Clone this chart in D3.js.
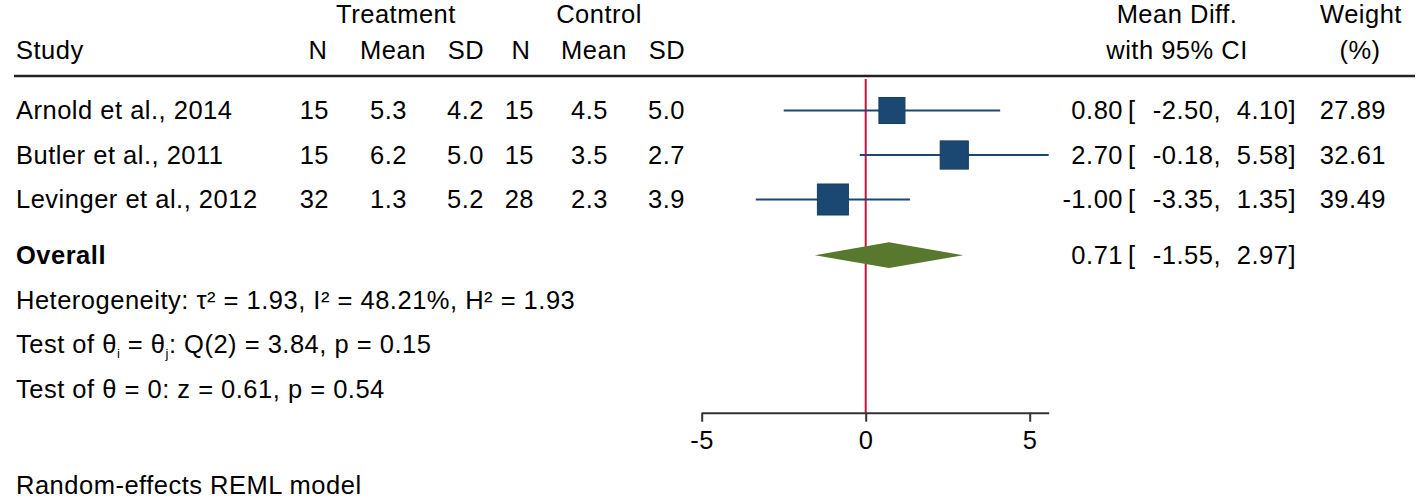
<!DOCTYPE html>
<html>
<head>
<meta charset="utf-8">
<script src="https://cdn.jsdelivr.net/npm/d3@7"></script>
<style>
  body { margin: 0; background: #fff; }
  svg text { font-family: "Liberation Sans", Arial, Helvetica, sans-serif; fill: #000; letter-spacing: 0.5px; }
</style>
</head>
<body>
<div id="chart"></div>
<script>
// study level data
const studies = ["Arnold et al., 2014", "Butler et al., 2011", "Levinger et al., 2012"]
const treatN = [15, 15, 32]
const treatMean = [5.3, 6.2, 1.3]
const treatSD = [4.2, 5.0, 5.2]
const ctrlN = [15, 15, 28]
const ctrlMean = [4.5, 3.5, 2.3]
const ctrlSD = [5.0, 2.7, 3.9]
const meanDiff = [0.80, 2.70, -1.00]
const ciLow = [-2.50, -0.18, -3.35]
const ciHigh = [4.10, 5.58, 1.35]
const weights = [27.89, 32.61, 39.49]

// pooled estimate
const overallEst = [0.71]
const overallLow = [-1.55]
const overallHigh = [2.97]

const xTicks = [-5, 0, 5]
const footLines = [
    "Heterogeneity: τ² = 1.93, I² = 48.21%, H² = 1.93",
    "Test of θ_i = θ_j: Q(2) = 3.84, p = 0.15",
    "Test of θ = 0: z = 0.61, p = 0.54"
]
const modelNote = "Random-effects REML model"

const W = 1418, H = 500
const fontSize = 25.5
const blue = "#1b4872", red = "#c8143c", green = "#58782d"

// plain hyphen for negatives, like the stata output
const loc = d3.formatLocale({ decimal: ".", thousands: ",", grouping: [3], currency: ["", ""], minus: "-" })
const f1 = loc.format(".1f"), f2 = loc.format(".2f")

const svg = d3.select("#chart").append("svg")
    .attr("width", W).attr("height", H)

// rows: studies 0..2, overall 3.25, footnotes after it
const rowY = d3.scaleLinear().domain([0, 1]).range([110.5, 155])
const overallRow = studies.length + 0.25

const x = d3.scaleLinear()
    .domain([-5, d3.max(ciHigh)])
    .range([701.7, 701.7 + (d3.max(ciHigh) + 5) * 32.8])

const size = d3.scaleSqrt().domain([0, d3.max(weights)]).range([0, 31])

function txt(g, str, px, py, anchor, bold) {
    return g.append("text")
        .attr("x", px).attr("y", py).attr("dy", "0.35em")
        .attr("text-anchor", anchor || "start")
        .style("font-size", fontSize + "px")
        .style("font-weight", bold ? "bold" : "normal")
        .text(str)
}

// header
const head = svg.append("g")
txt(head, "Treatment", 396, 14, "middle")
txt(head, "Control", 599, 14, "middle")
txt(head, "Mean Diff.", 1177, 14, "middle")
txt(head, "Weight", 1361, 14, "middle")
txt(head, "Study", 16, 50)
txt(head, "N", 318, 50, "middle")
txt(head, "Mean", 393, 50, "middle")
txt(head, "SD", 466, 50, "middle")
txt(head, "N", 521, 50, "middle")
txt(head, "Mean", 594, 50, "middle")
txt(head, "SD", 667, 50, "middle")
txt(head, "with 95% CI", 1177, 50, "middle")
txt(head, "(%)", 1360, 50, "middle")

svg.append("line")
    .attr("x1", 14).attr("x2", 1415).attr("y1", 76).attr("y2", 76)
    .attr("stroke", "#222").attr("stroke-width", 2.5)

// study text columns
const body = svg.append("g")
studies.forEach((s, i) => {
    const y = rowY(i)
    txt(body, s, 16, y)
    txt(body, treatN[i], 329, y, "end")
    txt(body, f1(treatMean[i]), 407, y, "end")
    txt(body, f1(treatSD[i]), 484, y, "end")
    txt(body, ctrlN[i], 534, y, "end")
    txt(body, f1(ctrlMean[i]), 608, y, "end")
    txt(body, f1(ctrlSD[i]), 685, y, "end")
    txt(body, f2(meanDiff[i]), 1123, y, "end")
    txt(body, "[", 1128, y)
    txt(body, f2(ciLow[i]) + ",", 1221, y, "end")
    txt(body, f2(ciHigh[i]) + "]", 1296, y, "end")
    txt(body, f2(weights[i]), 1386, y, "end")
})

const oy = rowY(overallRow)
txt(body, "Overall", 16, oy, "start", true)
txt(body, f2(overallEst[0]), 1123, oy, "end")
txt(body, "[", 1128, oy)
txt(body, f2(overallLow[0]) + ",", 1221, oy, "end")
txt(body, f2(overallHigh[0]) + "]", 1296, oy, "end")

// footnotes, sub-scripts written as _x
footLines.forEach((line, k) => {
    const t = txt(body, "", 16, rowY(overallRow + 1 + k))
    let shifted = false
    line.split(/(_[a-z])/).forEach(part => {
        if (part === "") return
        if (part.startsWith("_")) {
            t.append("tspan").attr("dy", 5).style("font-size", "13px").text(part.slice(1))
            shifted = true
        } else {
            const sp = t.append("tspan").text(part)
            if (shifted) sp.attr("dy", -5)
            shifted = false
        }
    })
})
txt(body, modelNote, 16, 485)

// plot
const plot = svg.append("g")
const axisY = 412.7

plot.append("line")
    .attr("x1", x(0)).attr("x2", x(0))
    .attr("y1", 79).attr("y2", axisY)
    .attr("stroke", red).attr("stroke-width", 2)

plot.selectAll(".ci")
    .data(studies)
    .join("line")
    .attr("class", "ci")
    .attr("x1", (d, i) => x(ciLow[i]))
    .attr("x2", (d, i) => x(ciHigh[i]))
    .attr("y1", (d, i) => rowY(i))
    .attr("y2", (d, i) => rowY(i))
    .attr("stroke", blue).attr("stroke-width", 2)

plot.selectAll(".box")
    .data(studies)
    .join("rect")
    .attr("class", "box")
    .attr("x", (d, i) => x(meanDiff[i]) - size(weights[i]) / 2)
    .attr("y", (d, i) => rowY(i) - size(weights[i]) / 2)
    .attr("width", (d, i) => size(weights[i]))
    .attr("height", (d, i) => size(weights[i]))
    .attr("fill", blue)
    .attr("stroke", "#163c60").attr("stroke-width", 1)

const dh = 12.8
plot.append("polygon")
    .attr("points", [
        [x(overallLow[0]), oy],
        [x(overallEst[0]), oy - dh],
        [x(overallHigh[0]), oy],
        [x(overallEst[0]), oy + dh]
    ].join(" "))
    .attr("fill", green)

const axis = d3.axisBottom(x)
    .tickValues(xTicks)
    .tickSizeInner(9)
    .tickSizeOuter(0)
    .tickPadding(9)
    .tickFormat(loc.format("d"))

plot.append("g")
    .attr("transform", `translate(0,${axisY})`)
    .call(axis)
    .call(g => g.select(".domain").attr("stroke", "#333").attr("stroke-width", 2))
    .call(g => g.selectAll(".tick line").attr("stroke", "#333").attr("stroke-width", 2))
    .call(g => g.selectAll(".tick text")
        .style("font-size", fontSize + "px")
        .style("font-family", '"Liberation Sans", Arial, sans-serif')
        .attr("fill", "#000"))
</script>
</body>
</html>
